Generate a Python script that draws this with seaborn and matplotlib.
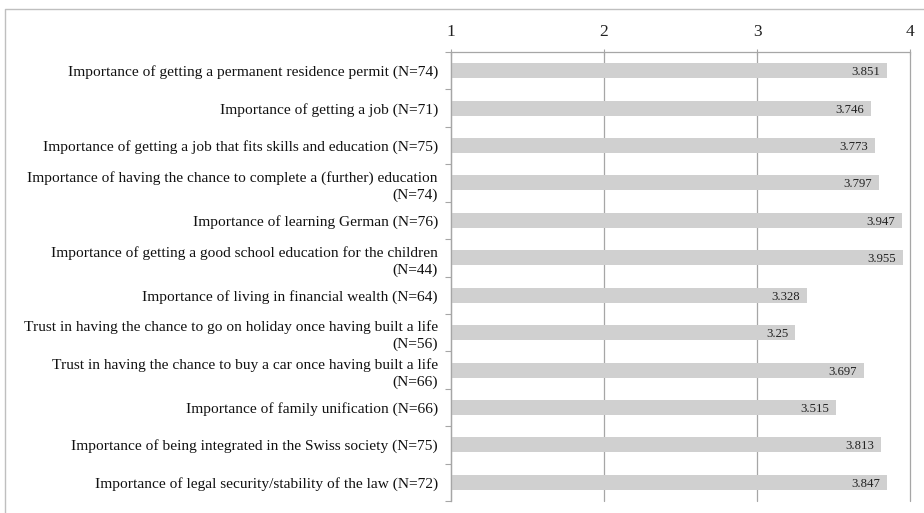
import matplotlib
matplotlib.use("Agg")
import matplotlib.pyplot as plt
import seaborn as sns
import pandas as pd
import numpy as np
from matplotlib.lines import Line2D

categories = [
    "Importance of getting a permanent residence permit (N=74)",
    "Importance of getting a job (N=71)",
    "Importance of getting a job that fits skills and education (N=75)",
    "Importance of having the chance to complete a (further) education\n(N=74)",
    "Importance of learning German (N=76)",
    "Importance of getting a good school education for the children\n(N=44)",
    "Importance of living in financial wealth (N=64)",
    "Trust in having the chance to go on holiday once having built a life\n(N=56)",
    "Trust in having the chance to buy a car once having built a life\n(N=66)",
    "Importance of family unification (N=66)",
    "Importance of being integrated in the Swiss society (N=75)",
    "Importance of legal security/stability of the law (N=72)",
]
values = [3.851, 3.746, 3.773, 3.797, 3.947, 3.955, 3.328, 3.25, 3.697, 3.515, 3.813, 3.847]
value_labels = ["3.851", "3.746", "3.773", "3.797", "3.947", "3.955", "3.328", "3.25",
                "3.697", "3.515", "3.813", "3.847"]
x_ticks = [1, 2, 3, 4]

df = pd.DataFrame({"label": categories, "value": values})

sns.set_theme(style="white")
plt.rcParams["font.family"] = ["Liberation Serif", "DejaVu Serif"]

fig = plt.figure(figsize=(9.24, 5.13), dpi=100)
ax = fig.add_axes([451 / 924, 1 - 501 / 513, (910 - 451) / 924, (501 - 52) / 513])

sns.barplot(data=df, x="value", y="label", orient="h", color="#d0d0d0",
            width=0.4, ax=ax, saturation=1, edgecolor="none")

ax.set_xlim(1, 4)
ax.set_ylim(len(categories) - 0.5, -0.5)
ax.set_xticks(x_ticks)
ax.set_xticklabels([str(t) for t in x_ticks])
ax.xaxis.tick_top()
ax.tick_params(axis="x", which="major", top=True, bottom=False, length=5, width=0.8,
               color="#a6a6a6", labelsize=12.5, pad=6, labelcolor="#222222", direction="inout")
ax.set_xlabel("")
ax.set_ylabel("")
ax.grid(axis="x", color="#a6a6a6", linewidth=0.9)
for gl in ax.get_xgridlines():
    gl.set_clip_on(False)
ax.set_axisbelow(True)

ax.tick_params(axis="y", which="major", length=0, labelsize=11.1, pad=9.5, labelcolor="#111111")
for t in ax.get_yticklabels():
    t.set_multialignment("right")
    t.set_linespacing(1.35)
ax.set_yticks(np.arange(-0.5, len(categories), 1.0), minor=True)
ax.tick_params(axis="y", which="minor", left=True, length=4, width=0.8, color="#a6a6a6",
               direction="out")

for s in ["right", "bottom"]:
    ax.spines[s].set_visible(False)
ax.spines["top"].set_color("#a6a6a6")
ax.spines["left"].set_color("#a6a6a6")
ax.spines["top"].set_linewidth(0.9)
ax.spines["left"].set_linewidth(0.9)

for i, (v, lab) in enumerate(zip(values, value_labels)):
    ax.text(v - 0.045, i + 0.04, lab, ha="right", va="center", fontsize=9.2, color="#222222")

# outer frame
fig.add_artist(Line2D([5 / 924, 5 / 924, 1.0], [0.0, 1 - 9 / 513, 1 - 9 / 513],
                      transform=fig.transFigure, color="#bfbfbf", linewidth=1.0))

fig.savefig("out.png", dpi=100)
